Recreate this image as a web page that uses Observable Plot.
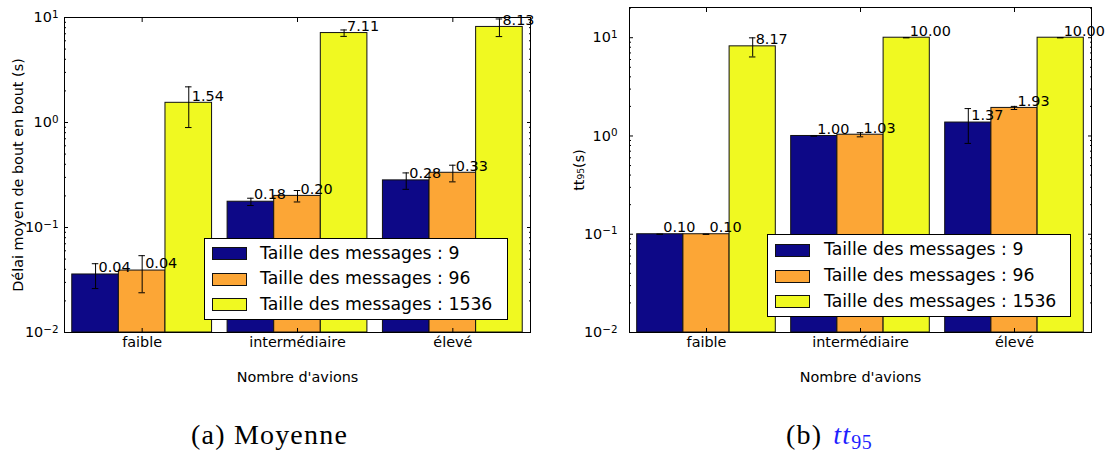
<!DOCTYPE html>
<html><head><meta charset="utf-8">
<script src="https://cdn.jsdelivr.net/npm/d3@7"></script>
<script src="https://cdn.jsdelivr.net/npm/@observablehq/plot@0.6"></script>
<style>
body{margin:0;background:#fff;}
#root{position:relative;width:1109px;height:457px;overflow:hidden;font-family:"DejaVu Sans",sans-serif;background:#fff;}
.panel{position:absolute;top:0;}
.legend{position:absolute;background:#fff;border:1px solid #000;box-sizing:border-box;font-size:17.3px;color:#000;}
.legend .swatch{position:absolute;height:13px;border:1px solid #111;box-sizing:border-box;}
.legend .lbl{position:absolute;line-height:1;white-space:nowrap;transform:translateY(-50%);}
.caption{position:absolute;font-family:"Liberation Serif",serif;font-size:28px;line-height:1;letter-spacing:1.2px;white-space:nowrap;color:#000;}
.caption .tt{color:#1f1fff;font-style:italic;margin-left:11px;}
.caption sub{color:#1f1fff;font-size:20px;vertical-align:-5px;letter-spacing:0.5px;}
</style></head>
<body><div id="root"></div>
<script>
// ---- data ----
const categories = ["faible", "intermédiaire", "élevé"];
const seriesNames = ["Taille des messages : 9", "Taille des messages : 96", "Taille des messages : 1536"];
const seriesColors = ["#0d0887", "#fca636", "#f0f921"];
const majorTicks = [0.01, 0.1, 1, 10];
const majorTickBase = "10";
const majorTickExponents = ["-2", "-1", "0", "1"];
const minorMultiples = [2, 3, 4, 5, 6, 7, 8, 9];

// (a) Moyenne : mean end-to-end delay (s)
const meanSize9 = [0.0357, 0.176, 0.281];
const meanSize96 = [0.0389, 0.200, 0.332];
const meanSize1536 = [1.54, 7.11, 8.13];
const meanErr9 = [0.0095, 0.014, 0.05];
const meanErr96 = [0.015, 0.025, 0.06];
const meanErr1536 = [0.645, 0.5, 1.55];

// (b) tt95 (s)
const tt95Size9 = [0.10, 1.00, 1.37];
const tt95Size96 = [0.10, 1.03, 1.93];
const tt95Size1536 = [8.17, 10.00, 10.00];
const tt95Err9 = [0, 0, 0.53];
const tt95Err96 = [0, 0.05, 0.07];
const tt95Err1536 = [1.8, 0, 0];

const xLabel = "Nombre d'avions";

function buildRows(values, errors) {
  return categories.flatMap((cat, gi) => seriesNames.map((series, si) => ({
    cat, gi, si, series, value: values[si][gi], err: errors[si][gi]
  })));
}

function panel(o) {
  const barW = 0.3, capHalf = 0.021;
  const pos = d => d.gi + (d.si - 1) * barW;
  const minorTicks = majorTicks.flatMap(t => minorMultiples.map(m => t * m))
    .filter(v => v > o.yDomain[0] && v < o.yDomain[1]);
  const supTick = v => {
    const i = majorTicks.indexOf(v);
    return i < 0 ? "" : majorTickBase + "^" + majorTickExponents[i];
  };
  const blank = () => "";
  const svg = Plot.plot({
    width: o.width, height: o.height,
    marginLeft: o.marginLeft, marginRight: o.marginRight,
    marginTop: o.marginTop, marginBottom: o.marginBottom,
    style: {fontFamily: "'DejaVu Sans', sans-serif", fontSize: "14.4px", background: "transparent", color: "#000", overflow: "visible"},
    x: {domain: [-0.5, 2.5]},
    y: {type: "log", domain: o.yDomain},
    color: {domain: seriesNames, range: seriesColors},
    marks: [
      Plot.rectY(o.rows, {x1: d => pos(d) - barW / 2, x2: d => pos(d) + barW / 2, y1: () => o.yDomain[0], y2: "value", fill: "series", stroke: "#111", strokeWidth: 1}),
      Plot.ruleX(o.rows, {x: pos, y1: d => d.value - d.err, y2: d => d.value + d.err, stroke: "#000", strokeWidth: 1}),
      Plot.ruleY(o.rows, {y: d => d.value + d.err, x1: d => pos(d) - capHalf, x2: d => pos(d) + capHalf, stroke: "#000", strokeWidth: 1}),
      Plot.ruleY(o.rows, {y: d => d.value - d.err, x1: d => pos(d) - capHalf, x2: d => pos(d) + capHalf, stroke: "#000", strokeWidth: 1}),
      Plot.text(o.rows, {x: pos, y: d => d.value * 1.05, text: d => d.value.toFixed(2), textAnchor: "start", lineAnchor: "bottom", dx: 3, fill: "#000"}),
      Plot.frame({stroke: "#000", strokeWidth: 1}),
      Plot.axisY({anchor: "left", ticks: majorTicks, tickFormat: supTick, tickSize: 0, tickPadding: o.yTickPadding, label: null}),
      Plot.axisY({anchor: "left", ticks: majorTicks, tickFormat: blank, tickSize: -4, label: null}),
      Plot.axisY({anchor: "left", ticks: minorTicks, tickFormat: blank, tickSize: -2, label: null}),
      Plot.axisY({anchor: "right", ticks: majorTicks, tickFormat: blank, tickSize: -4, label: null}),
      Plot.axisY({anchor: "right", ticks: minorTicks, tickFormat: blank, tickSize: -2, label: null}),
      Plot.axisX({anchor: "bottom", ticks: [0, 1, 2], tickFormat: i => categories[i], tickSize: 0, tickPadding: 4, label: null}),
      Plot.axisX({anchor: "bottom", ticks: [0, 1, 2], tickFormat: blank, tickSize: -4, label: null}),
      Plot.axisX({anchor: "top", ticks: [0, 1, 2], tickFormat: blank, tickSize: -4, label: null}),
      Plot.text([o.yLabel], {text: d => d, frameAnchor: "left", rotate: -90, textAnchor: "middle", lineAnchor: "middle", dx: o.yLabelDx, fill: "#000"}),
      Plot.text([xLabel], {text: d => d, frameAnchor: "bottom", textAnchor: "middle", lineAnchor: "middle", dy: 45, fill: "#000"})
    ]
  });
  // render "10^e" tick labels with a real superscript
  d3.select(svg).selectAll("text").each(function () {
    const t = this.textContent;
    const m = /^(\d+)\^(-?\d+)$/.exec(t);
    if (!m) return;
    const el = d3.select(this);
    el.text(null);
    el.append("tspan").text(m[1]);
    el.append("tspan").attr("font-size", "72%").attr("dy", "-4.4px").text(m[2].replace("-", "\u2212"));
  });
  return svg;
}

const root = document.getElementById("root");

function addPanel(left, opts) {
  const div = document.createElement("div");
  div.className = "panel";
  div.style.left = left + "px";
  div.appendChild(panel(opts));
  root.appendChild(div);
}

function addLegend(box) {
  const lg = document.createElement("div");
  lg.className = "legend";
  Object.assign(lg.style, {left: box.left + "px", top: box.top + "px", width: box.width + "px", height: box.height + "px"});
  seriesNames.forEach((name, i) => {
    const sw = document.createElement("div");
    sw.className = "swatch";
    Object.assign(sw.style, {left: box.swLeft + "px", width: box.swWidth + "px", top: (box.rows[i] - 6.5) + "px", background: seriesColors[i]});
    const tx = document.createElement("div");
    tx.className = "lbl";
    Object.assign(tx.style, {left: box.txLeft + "px", top: box.rows[i] + "px"});
    tx.textContent = name;
    lg.appendChild(sw); lg.appendChild(tx);
  });
  root.appendChild(lg);
}

addPanel(0, {
  rows: buildRows([meanSize9, meanSize96, meanSize1536], [meanErr9, meanErr96, meanErr1536]),
  yDomain: [0.01, 10], width: 555, height: 400,
  marginLeft: 64, marginRight: 25, marginTop: 17, marginBottom: 68,
  yLabel: "Délai moyen de bout en bout (s)", yLabelDx: -46, yTickPadding: 6
});
addPanel(555, {
  rows: buildRows([tt95Size9, tt95Size96, tt95Size1536], [tt95Err9, tt95Err96, tt95Err1536]),
  yDomain: [0.01, 20.3], width: 554, height: 400,
  marginLeft: 74, marginRight: 18, marginTop: 7, marginBottom: 68,
  yLabel: "tt\u2089\u2085(s)", yLabelDx: -50, yTickPadding: 12
});

addLegend({left: 204, top: 238, width: 304, height: 82, swLeft: 7, swWidth: 35, txLeft: 55, rows: [14.5, 40, 65.8]});
addLegend({left: 767, top: 234, width: 304, height: 83, swLeft: 7, swWidth: 35, txLeft: 56, rows: [15, 41, 66.8]});

const capA = document.createElement("div");
capA.className = "caption";
capA.style.left = "191px"; capA.style.top = "421px";
capA.textContent = "(a) Moyenne";
root.appendChild(capA);

const capB = document.createElement("div");
capB.className = "caption";
capB.style.left = "786px"; capB.style.top = "421px";
capB.innerHTML = '(b)<span class="tt">tt</span><sub>95</sub>';
root.appendChild(capB);
</script></body></html>
